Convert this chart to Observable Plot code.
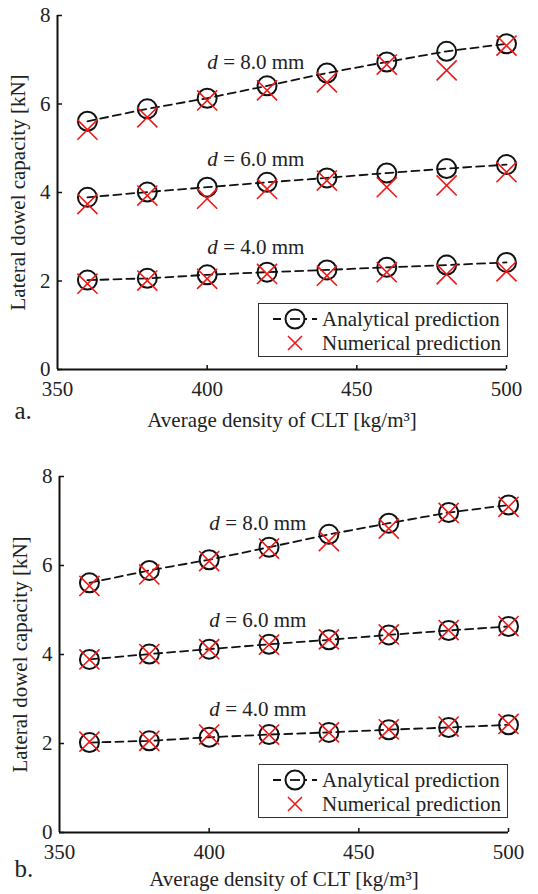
<!DOCTYPE html>
<html>
<head>
<meta charset="utf-8">
<script src="https://cdn.jsdelivr.net/npm/d3@7"></script>
<script src="https://cdn.jsdelivr.net/npm/@observablehq/plot@0.6"></script>
<style>
  body { margin: 0; background: #fff; }
  #root { position: relative; width: 538px; height: 894px; font-family: "Liberation Serif", "Times New Roman", serif; color: #222; }
  .panel { position: absolute; left: 0; width: 538px; height: 447px; }
  .legend { position: absolute; border: 1px solid #333; background: #fff; font-size: 21px; box-sizing: border-box; }
  .legend .row { position: absolute; left: 0; height: 22px; display: flex; align-items: center; white-space: nowrap; }
  .legend svg { display: block; }
</style>
</head>
<body>
<div id="root"></div>
<script>
// ---- data ----
const density = [360, 380, 400, 420, 440, 460, 480, 500];
const diameters = ["8.0", "6.0", "4.0"];
const analytical8 = [5.61, 5.89, 6.13, 6.41, 6.70, 6.95, 7.19, 7.36];
const analytical6 = [3.89, 4.01, 4.12, 4.23, 4.33, 4.44, 4.54, 4.63];
const analytical4 = [2.02, 2.06, 2.14, 2.20, 2.25, 2.31, 2.36, 2.42];
const numericalA8 = [5.42, 5.70, 6.08, 6.31, 6.49, 6.89, 6.76, 7.32];
const numericalA6 = [3.74, 3.93, 3.86, 4.08, 4.27, 4.12, 4.16, 4.46];
const numericalA4 = [1.94, 2.01, 2.05, 2.16, 2.12, 2.20, 2.15, 2.22];
const numericalB8 = [5.54, 5.80, 6.10, 6.38, 6.55, 6.83, 7.18, 7.32];
const numericalB6 = [3.89, 4.01, 4.12, 4.22, 4.34, 4.45, 4.55, 4.64];
const numericalB4 = [2.04, 2.06, 2.20, 2.20, 2.25, 2.32, 2.38, 2.44];
const labelY = [6.95, 4.76, 2.77];
const xTicks = [350, 400, 450, 500];
const yTicks = [0, 2, 4, 6, 8];
const xLabel = "Average density of CLT [kg/m³]";
const yLabel = "Lateral dowel capacity [kN]";
const legendNames = ["Analytical prediction", "Numerical prediction"];

function rows(arrays) {
  const out = [];
  arrays.forEach((arr, k) => arr.forEach((v, i) => out.push({x: density[i], y: v, d: diameters[k]})));
  return out;
}

const FONT = "Liberation Serif";
const FS = 21;

function panel({top, letter, analytical, numerical, m, legendPos, xLabDy, letterDx, letterDy}) {
  const an = rows(analytical);
  const nu = rows(numerical);
  const labels = diameters.map((d, k) => ({x: 400, y: labelY[k], t: "= " + d + " mm"}));
  const plot = Plot.plot({
    width: 538,
    height: 447,
    marginLeft: m.left, marginRight: m.right, marginTop: m.top, marginBottom: m.bottom,
    style: {fontFamily: FONT, fontSize: FS + "px", color: "#222", background: "transparent", overflow: "visible"},
    x: {domain: [350, 500]},
    y: {domain: [0, 8]},
    marks: [
      Plot.axisX({ticks: xTicks, tickSize: 0, tickPadding: 12, label: null, fontSize: FS}),
      Plot.axisX({ticks: xTicks.slice(1), tickSize: 4, dy: -4, text: null, label: null, strokeWidth: 1.5, stroke: "#111"}),
      Plot.axisY({ticks: yTicks, tickSize: 0, tickPadding: 7, label: null, fontSize: FS, tickFormat: d => String(d)}),
      Plot.axisY({ticks: yTicks, tickSize: 5, dx: 5, text: null, label: null, strokeWidth: 1.5, stroke: "#111"}),
      Plot.ruleX([350], {stroke: "#111", strokeWidth: 2}),
      Plot.ruleY([0], {stroke: "#111", strokeWidth: 2}),
      Plot.line(an, {x: "x", y: "y", z: "d", stroke: "#111", strokeWidth: 1.8, strokeDasharray: "8,5"}),
      Plot.dot(an, {x: "x", y: "y", r: 9.5, stroke: "#111", strokeWidth: 2, fill: "none"}),
      Plot.dot(nu, {x: "x", y: "y", r: 9.2, symbol: "times", stroke: "#f01818", strokeWidth: 1.6}),
      Plot.text(labels, {x: "x", y: "y", text: () => "d", fontStyle: "italic", textAnchor: "start", fill: "#222", fontSize: FS}),
      Plot.text(labels, {x: "x", y: "y", text: "t", dx: 16, textAnchor: "start", fill: "#222", fontSize: FS}),
      Plot.text([xLabel], {frameAnchor: "bottom", lineAnchor: "middle", dy: xLabDy, fill: "#222", fontSize: FS}),
      Plot.text([yLabel], {frameAnchor: "left", textAnchor: "middle", lineAnchor: "middle", rotate: -90, dx: -39, fill: "#222", fontSize: FS}),
      Plot.text([letter], {frameAnchor: "bottom-left", textAnchor: "start", lineAnchor: "middle", dx: letterDx, dy: letterDy, fill: "#222", fontSize: 25})
    ]
  });
  const wrap = document.createElement("div");
  wrap.className = "panel";
  wrap.style.top = top + "px";
  wrap.appendChild(plot);

  const lg = document.createElement("div");
  lg.className = "legend";
  lg.style.left = legendPos.left + "px";
  lg.style.top = legendPos.top + "px";
  lg.style.width = "250px";
  lg.style.height = "54px";
  const sym1 = `<svg width="60" height="22"><line x1="14" y1="11" x2="58" y2="11" stroke="#111" stroke-width="1.8" stroke-dasharray="8,5"/><circle cx="36" cy="11" r="9.5" fill="#fff" stroke="#111" stroke-width="2"/><line x1="31" y1="11" x2="41" y2="11" stroke="#111" stroke-width="1.8"/></svg>`;
  const sym2 = `<svg width="60" height="22"><path d="M29,4L43,18M43,4L29,18" stroke="#f01818" stroke-width="1.6" fill="none"/></svg>`;
  lg.innerHTML = `<div class="row" style="top:4px">${sym1}<span style="margin-left:3px">${legendNames[0]}</span></div>` +
                 `<div class="row" style="top:28px">${sym2}<span style="margin-left:3px">${legendNames[1]}</span></div>`;
  wrap.appendChild(lg);
  document.getElementById("root").appendChild(wrap);
}

panel({top: 0, letter: "a.", analytical: [analytical8, analytical6, analytical4], numerical: [numericalA8, numericalA6, numericalA4],
       m: {left: 57, right: 32, top: 15, bottom: 78}, legendPos: {left: 258, top: 303}, xLabDy: 51, letterDx: -43, letterDy: 41});
panel({top: 447, letter: "b.", analytical: [analytical8, analytical6, analytical4], numerical: [numericalB8, numericalB6, numericalB4],
       m: {left: 59, right: 30, top: 29, bottom: 62}, legendPos: {left: 258, top: 317}, xLabDy: 47, letterDx: -45, letterDy: 36});
</script>
</body>
</html>
